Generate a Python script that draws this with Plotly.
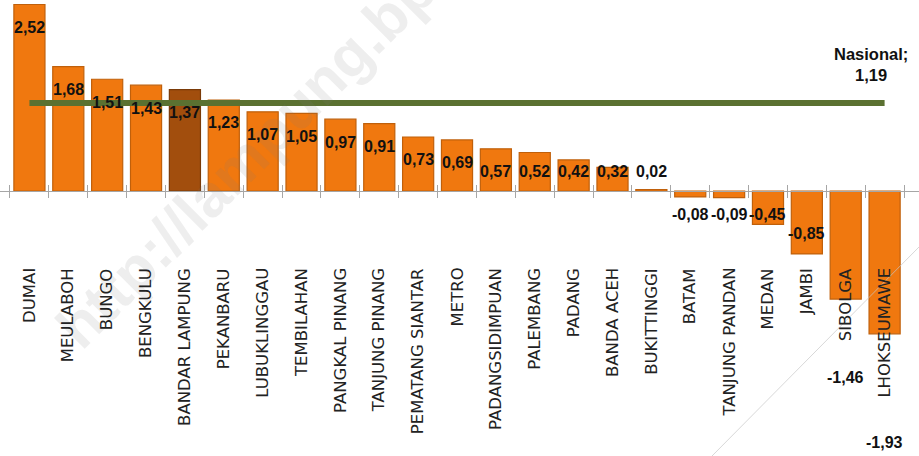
import plotly.graph_objects as go

# Inflation by city (%), sorted descending
cities = ["DUMAI", "MEULABOH", "BUNGO", "BENGKULU", "BANDAR LAMPUNG", "PEKANBARU",
          "LUBUKLINGGAU", "TEMBILAHAN", "PANGKAL PINANG", "TANJUNG PINANG",
          "PEMATANG SIANTAR", "METRO", "PADANGSIDIMPUAN", "PALEMBANG", "PADANG",
          "BANDA ACEH", "BUKITTINGGI", "BATAM", "TANJUNG PANDAN", "MEDAN", "JAMBI",
          "SIBOLGA", "LHOKSEUMAWE"]
values = [2.52, 1.68, 1.51, 1.43, 1.37, 1.23, 1.07, 1.05, 0.97, 0.91, 0.73, 0.69,
          0.57, 0.52, 0.42, 0.32, 0.02, -0.08, -0.09, -0.45, -0.85, -1.46, -1.93]
national_label = "Nasional"
national_value = 1.19
highlight_city = "BANDAR LAMPUNG"

# ---- styling ----
W, H = 919, 456
PX_PER_UNIT = 74.0
ZERO_PX = 191.0
Y_MAX = ZERO_PX / PX_PER_UNIT
Y_MIN = -(H - ZERO_PX) / PX_PER_UNIT
X_RANGE = [-0.757, 22.885]
ZERO_FRAC = -Y_MIN / (Y_MAX - Y_MIN)

ORANGE = "#F0780F"
ORANGE_EDGE = "#C0600B"
BROWN = "#A24E0D"
BROWN_EDGE = "#7A3A08"
GREEN = "#5B7131"
AXIS_GREY = "#A6A6A6"

VALUE_FONT = dict(family="Liberation Sans Narrow, Arial Narrow, Liberation Sans, Arial",
                  weight="bold", size=16, color="#111111")
CAT_FONT = dict(family="DejaVu Sans, Arial", size=16.5, color="#222222")


def fmt(v):
    return f"{v:.2f}".replace(".", ",")


def px(p):
    return p / PX_PER_UNIT


bar_colors = [BROWN if c == highlight_city else ORANGE for c in cities]
edge_colors = [BROWN_EDGE if c == highlight_city else ORANGE_EDGE for c in cities]

fig = go.Figure()
fig.add_trace(go.Bar(
    x=cities, y=values,
    marker=dict(color=bar_colors, line=dict(color=edge_colors, width=1.2)),
    hoverinfo="x+y", showlegend=False,
))
fig.add_trace(go.Scatter(
    x=cities, y=[national_value] * len(cities),
    mode="lines", line=dict(color=GREEN, width=6),
    xaxis="x2", yaxis="y", hoverinfo="skip", showlegend=False,
))

annotations = []

# watermark (drawn first so the labels sit on top of it)
annotations.append(dict(x=315 / W, y=(H - 90) / H, xref="paper", yref="paper",
                        text="<b>http://lampung.bps.go.id</b>", textangle=-45,
                        showarrow=False,
                        font=dict(family="Liberation Sans, Arial", size=60,
                                  color="rgba(120,120,120,0.13)"),
                        xanchor="center", yanchor="middle"))

# value labels: inside the top of positive bars, near the base of negative ones
label_override_px = {"SIBOLGA": 377, "LHOKSEUMAWE": 442}
for c, v in zip(cities, values):
    if c in label_override_px:
        y = (ZERO_PX - label_override_px[c]) / PX_PER_UNIT
    elif v >= 0:
        y = max(v - px(23), px(20))
    else:
        y = min(v + px(20), -px(23))
    annotations.append(dict(x=c, y=y, xref="x", yref="y", text=fmt(v),
                            showarrow=False, font=VALUE_FONT,
                            xanchor="center", yanchor="middle"))

# rotated city names below the axis
for c in cities:
    annotations.append(dict(x=c, y=(H - 266) / H, xref="x", yref="paper", text=c,
                            textangle=-90, showarrow=False, font=CAT_FONT,
                            xanchor="center", yanchor="top"))

# national reference label
annotations.append(dict(x=871 / W, y=(H - 64) / H, xref="paper", yref="paper",
                        text=f"{national_label};<br>{fmt(national_value)}",
                        showarrow=False, align="center",
                        font={**VALUE_FONT, "size": 16.5},
                        xanchor="center", yanchor="middle"))

axis_common = dict(type="category", categoryorder="array", categoryarray=cities,
                   range=X_RANGE, anchor="free", position=ZERO_FRAC,
                   showgrid=False, zeroline=False, showticklabels=False,
                   tickson="boundaries", ticklen=6, tickcolor=AXIS_GREY, tickwidth=1)

fig.update_layout(
    width=W, height=H,
    margin=dict(l=0, r=0, t=0, b=0),
    paper_bgcolor="white", plot_bgcolor="white",
    bargap=0.2,
    xaxis=dict(**axis_common, showline=True, linecolor=AXIS_GREY, linewidth=1,
               ticks="outside"),
    xaxis2=dict(**axis_common, overlaying="x", matches="x", showline=False,
                ticks="inside"),
    yaxis=dict(range=[Y_MIN, Y_MAX], visible=False, fixedrange=True),
    annotations=annotations,
    shapes=[dict(type="line", xref="paper", yref="paper",
                 x0=712 / W, y0=(H - 456) / H, x1=1.0, y1=(H - 247) / H,
                 line=dict(color="rgba(200,200,200,0.7)", width=1))],
)

fig.write_html("out.html")
